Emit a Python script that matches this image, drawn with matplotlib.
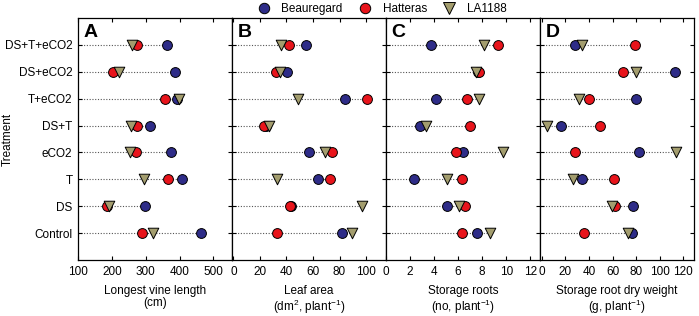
import numpy as np
import matplotlib
matplotlib.use('Agg')
import matplotlib.pyplot as plt
from matplotlib.lines import Line2D

plt.rcParams['font.family'] = ['Liberation Sans', 'DejaVu Sans']
plt.rcParams['mathtext.fontset'] = 'custom'
plt.rcParams['mathtext.rm'] = 'Liberation Sans'
plt.rcParams['mathtext.it'] = 'Liberation Sans:italic'

# Treatments, bottom to top
treatments = ['Control', 'DS', 'T', 'eCO2', 'DS+T', 'T+eCO2', 'DS+eCO2', 'DS+T+eCO2']

# Longest vine length (cm)
vine_beau = [462, 298, 408, 375, 312, 393, 388, 364]
vine_hatt = [290, 185, 366, 271, 273, 356, 202, 275]
vine_la = [321, 192, 295, 254, 258, 398, 220, 261]

# Leaf area (dm2 per plant)
leaf_beau = [82, 43.8, 63.7, 57, 24.5, 84.1, 40.5, 54.8]
leaf_hatt = [33, 42.5, 73.2, 74.4, 23.3, 101, 31.8, 42]
leaf_la = [89.7, 96.6, 33, 69.3, 26.7, 48.9, 34.8, 36.1]

# Storage roots (no. per plant)
roots_beau = [7.6, 5.03, 2.33, 6.36, 2.83, 4.19, 7.65, 3.7]
roots_hatt = [6.3, 6.55, 6.3, 5.86, 7.0, 6.7, 7.7, 9.33]
roots_la = [8.64, 6.03, 5.03, 9.7, 3.36, 7.7, 7.5, 8.17]

# Storage root dry weight (g per plant)
dw_beau = [76.2, 77, 34.3, 82.6, 16.6, 79.8, 112.9, 27.8]
dw_hatt = [36.2, 62.1, 61.5, 28.6, 49.7, 39.9, 69.1, 78.7]
dw_la = [73.3, 59.6, 26.4, 114, 4.5, 31.2, 79.8, 34]

panels = [
    ('A', 'Longest vine length\n(cm)', vine_beau, vine_hatt, vine_la,
     (100, 555), [100, 200, 300, 400, 500]),
    ('B', 'Leaf area\n(dm$^2$, plant$^{-1}$)', leaf_beau, leaf_hatt, leaf_la,
     (-1, 115), [0, 20, 40, 60, 80, 100]),
    ('C', 'Storage roots\n(no, plant$^{-1}$)', roots_beau, roots_hatt, roots_la,
     (0, 12.8), [0, 2, 4, 6, 8, 10, 12]),
    ('D', 'Storage root dry weight\n(g, plant$^{-1}$)', dw_beau, dw_hatt, dw_la,
     (-1.5, 129), [0, 20, 40, 60, 80, 100, 120]),
]

blue = '#2E2C88'
red = '#E8141B'
olive = '#A39D6E'

fig = plt.figure(figsize=(6.99, 3.16), dpi=100)
left, bottom, width, height = 0.1116, 0.177, 0.2203, 0.766

y = np.arange(len(treatments))
for i, (letter, xlabel, b, h, l, xlim, xticks) in enumerate(panels):
    ax = fig.add_axes([left + i * width, bottom, width, height])
    ax.set_xlim(*xlim)
    ax.set_ylim(-1, 8)
    # dotted guide from the left edge to the largest value in the row
    row_max = np.max(np.vstack([b, h, l]), axis=0)
    ax.hlines(y, xlim[0], row_max, colors='#555555', linestyles=(0, (1, 1.5)),
              linewidth=0.8, zorder=1)
    ax.scatter(b, y, s=50, marker='o', facecolor=blue, edgecolor='black',
               linewidth=0.7, zorder=3)
    ax.scatter(h, y, s=50, marker='o', facecolor=red, edgecolor='black',
               linewidth=0.7, zorder=4)
    ax.scatter(l, y, s=58, marker='v', facecolor=olive, edgecolor='black',
               linewidth=0.7, zorder=5)
    ax.set_xticks(xticks)
    ax.set_yticks(y)
    ax.tick_params(direction='in', top=True, right=True, length=3, width=0.8,
                   labelsize=8.5, pad=4)
    if i == 0:
        ax.set_yticklabels(treatments)
    else:
        ax.set_yticklabels([])
    ax.set_xlabel(xlabel, fontsize=8.5, labelpad=5, linespacing=1.1)
    for sp in ax.spines.values():
        sp.set_linewidth(0.9)
    ax.text(0.035, 0.975, letter, transform=ax.transAxes, fontsize=14,
            fontweight='bold', ha='left', va='top')

fig.text(8 / 699, bottom + height / 2, 'Treatment', rotation=90, fontsize=8.5,
         ha='center', va='center')

handles = [
    Line2D([], [], ls='none', marker='o', markersize=7.5, markerfacecolor=blue,
           markeredgecolor='black', markeredgewidth=0.7, label='Beauregard'),
    Line2D([], [], ls='none', marker='o', markersize=7.5, markerfacecolor=red,
           markeredgecolor='black', markeredgewidth=0.7, label='Hatteras'),
    Line2D([], [], ls='none', marker='v', markersize=8, markerfacecolor=olive,
           markeredgecolor='black', markeredgewidth=0.7, label='LA1188'),
]
fig.legend(handles=handles, loc='center', bbox_to_anchor=(0.546, 0.972), ncol=3,
           frameon=False, fontsize=8.5, handlelength=1.2, handletextpad=0.9,
           columnspacing=1.3, borderpad=0)

fig.savefig('out.png', dpi=100, facecolor='white')
